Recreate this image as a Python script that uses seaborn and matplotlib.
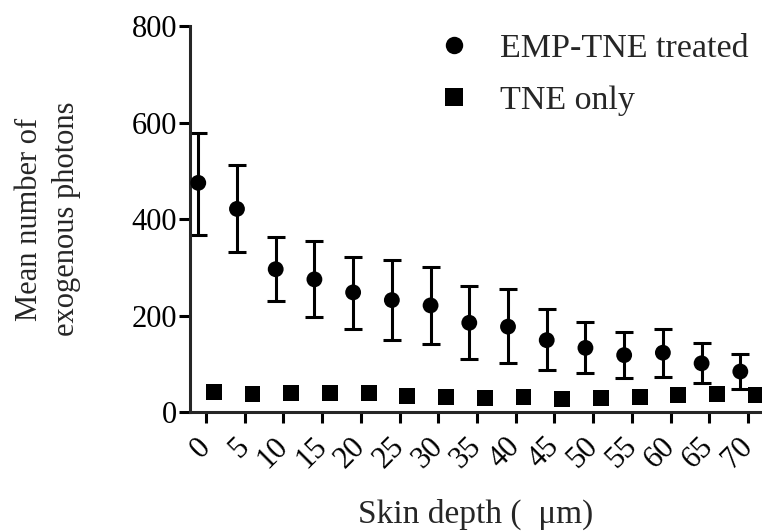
import matplotlib
matplotlib.use("Agg")
import matplotlib.pyplot as plt
import numpy as np
import pandas as pd
import seaborn as sns

depth = [0, 5, 10, 15, 20, 25, 30, 35, 40, 45, 50, 55, 60, 65, 70]
emp_mean = [475, 421, 296, 275, 248, 232, 221, 185, 177, 149, 133, 118, 123, 101, 84]
emp_lo = [367, 331, 230, 197, 173, 150, 140, 110, 101, 87, 80, 70, 73, 60, 47]
emp_hi = [578, 512, 363, 354, 322, 315, 300, 261, 255, 213, 187, 166, 172, 143, 120]
tne_mean = [42, 38, 40, 39, 40, 33, 31, 29, 31, 27, 29, 31, 36, 38, 36]
tne_err = [6, 7, 7, 7, 7, 7, 7, 7, 7, 6, 6, 6, 7, 7, 7]
y_ticks = [0, 200, 400, 600, 800]

sns.set_style("ticks")
plt.rcParams["font.family"] = ["Liberation Serif", "DejaVu Serif"]

d = np.array(depth, dtype=float)
df = pd.DataFrame({
    "depth": np.concatenate([d - 1.0, d + 1.0]),
    "photons": emp_mean + tne_mean,
    "group": ["EMP-TNE treated"] * len(depth) + ["TNE only"] * len(depth),
})

fig = plt.figure(figsize=(7.62, 5.31), dpi=100)
ax = fig.add_axes([0.249, 0.224, 0.751, 0.727])

em = np.array(emp_mean)
ax.errorbar(d - 1.0, em, yerr=[em - np.array(emp_lo), np.array(emp_hi) - em],
            fmt="none", ecolor="black", elinewidth=2.2, capsize=6.5, capthick=2.2, zorder=2)
ax.errorbar(d + 1.0, tne_mean, yerr=tne_err,
            fmt="none", ecolor="black", elinewidth=2.2, capsize=4.5, capthick=2.2, zorder=2)

sns.scatterplot(data=df, x="depth", y="photons", style="group",
                markers={"EMP-TNE treated": "o", "TNE only": "s"},
                color="black", edgecolor="black", s=130, linewidth=0,
                ax=ax, zorder=3, legend=True)

ax.set_xlim(-2.1, 71.8)
ax.set_ylim(0, 800)
ax.set_yticks(y_ticks)
ax.set_xticks(depth)
ax.set_xticklabels([str(v) for v in depth], rotation=45, ha="right", va="center",
                   rotation_mode="anchor")
for s in ["top", "right"]:
    ax.spines[s].set_visible(False)
for s in ["left", "bottom"]:
    ax.spines[s].set_linewidth(2.2)
ax.tick_params(width=2.2, length=8, labelsize=22, color="black", labelcolor="black")
ax.tick_params(axis="x", pad=14)
ax.tick_params(axis="y", pad=1)
ax.set_xlabel("Skin depth (  μm)", fontsize=24)
ax.xaxis.set_label_coords(0.5, -0.225)
ax.set_ylabel("Mean number of\nexogenous photons", fontsize=22, linespacing=1.35)
ax.yaxis.set_label_coords(-0.19, 0.5)

leg = ax.legend(loc="upper right", frameon=False, fontsize=24.5,
                bbox_to_anchor=(1.03, 1.06), handletextpad=0.35,
                labelspacing=0.6, markerscale=1.1)
leg.set_title(None)

fig.savefig("out.png", dpi=100)
